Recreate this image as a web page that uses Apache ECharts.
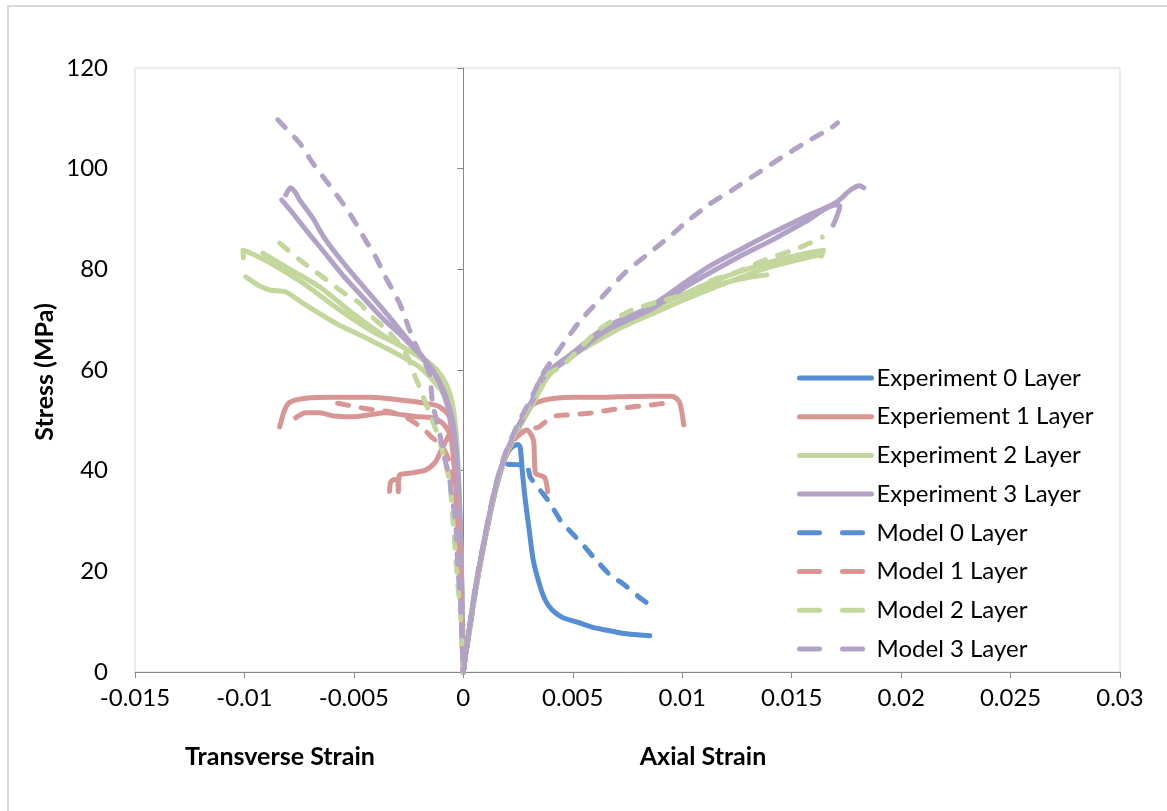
<!DOCTYPE html>
<html>
<head>
<meta charset="utf-8">
<script src="https://cdn.jsdelivr.net/npm/echarts@6/dist/echarts.min.js"></script>
<style>
  html, body { margin: 0; padding: 0; background: #ffffff; }
  #chart { width: 1167px; height: 811px; }
</style>
</head>
<body>
<div id="chart"></div>
<script>
// Stress-strain curves: axial strain on the positive side, transverse strain on the negative side.
const xTicks = [-0.015, -0.01, -0.005, 0, 0.005, 0.01, 0.015, 0.02, 0.025, 0.03];
const yTicks = [0, 20, 40, 60, 80, 100, 120];

const legendNames = [
  'Experiment 0 Layer', 'Experiement 1 Layer', 'Experiment 2 Layer', 'Experiment 3 Layer',
  'Model 0 Layer', 'Model 1 Layer', 'Model 2 Layer', 'Model 3 Layer'
];
const layerColors = ['#558ed5', '#d99594', '#c3d69b', '#b3a2c7'];

// ---- 0 layer ----
const exp0Axial = [[0,0],[0.0001,3.4],[0.00027,8.3],[0.00055,16.3],[0.001,26.8],[0.00146,36.2],[0.0019,42.6],[0.0022,44.6],[0.0025,45.2],[0.0026,44.6],[0.00269,40.1],[0.00283,34.2],[0.00301,28.2],[0.00319,22.3],[0.00346,17.7],[0.00374,14.3],[0.00406,12.3],[0.00451,10.9],[0.0052,9.9],[0.00588,8.9],[0.00656,8.3],[0.00725,7.7],[0.00793,7.4],[0.00852,7.2]];
const model0Axial = [[0,0],[0.0001,3.2],[0.00028,8.4],[0.00056,16.5],[0.001,27],[0.00147,36.4],[0.0019,41.3],[0.0024,41.2],[0.0029,41.0],[0.00306,38.7],[0.0036,35.6],[0.00392,33.8],[0.00451,29.6],[0.00483,28.2],[0.00556,24.8],[0.00597,22.7],[0.00679,18.9],[0.00725,17.7],[0.00802,14.9],[0.00852,13.3]];

// ---- 1 layer ----
const exp1AxialA = [[0,0],[0.00009,3.6],[0.00027,8.2],[0.00055,16.4],[0.001,26.9],[0.00146,36.1],[0.00191,42.8],[0.00223,46.3],[0.00255,49],[0.00283,51.2],[0.00315,53],[0.0036,53.9],[0.00419,54.4],[0.0051,54.6],[0.00647,54.6],[0.00738,54.7],[0.00861,54.8],[0.00953,54.8],[0.00985,53.8],[0.00998,51.7],[0.01007,49.1]];
const exp1AxialB = [[0,0],[0.0001,3.3],[0.00028,8.4],[0.00056,16.2],[0.001,26.7],[0.00146,36.3],[0.0019,42.5],[0.00225,46.2],[0.0029,48.1],[0.0032,46.1],[0.00325,42.2],[0.0033,39.5],[0.0037,38.7],[0.0038,37.4],[0.00385,35.8]];
const exp1TransA = [[0,0],[-0.00005,5],[-0.00009,11.7],[-0.00014,18.3],[-0.00018,24.8],[-0.00027,31.6],[-0.00036,38.1],[-0.0005,44.7],[-0.00064,50.7],[-0.00109,52.7],[-0.00173,53.4],[-0.00278,54],[-0.00428,54.6],[-0.00597,54.6],[-0.0072,54.4],[-0.00793,53.6],[-0.00816,52.1],[-0.00839,48.7]];
const exp1TransB = [[0,0],[-0.00005,6.4],[-0.00014,18.3],[-0.00023,30.2],[-0.00032,38.1],[-0.00046,44.1],[-0.00064,47.5],[-0.00096,49.5],[-0.00141,50.5],[-0.00201,50.7],[-0.00278,51.1],[-0.00356,51.5],[-0.00428,51.1],[-0.00506,50.7],[-0.00597,50.9],[-0.00656,51.5],[-0.0072,51.5],[-0.00766,50.5]];
const exp1TransC = [[0,0],[-0.00005,6],[-0.00013,17],[-0.00022,28],[-0.0003,36.5],[-0.00045,43.5],[-0.0006,47.5],[-0.00082,45.7],[-0.00105,43.7],[-0.00128,41.7],[-0.00173,40.1],[-0.00246,39.5],[-0.00292,39.1],[-0.00297,35.8],[-0.00301,38.3],[-0.00324,38.1],[-0.00333,37.6],[-0.00337,35.9]];
const model1Axial = [[0,0],[0.0001,3.5],[0.00027,8.5],[0.00055,16.2],[0.001,26.6],[0.00146,36],[0.0019,42.4],[0.0024,46.5],[0.0029,48.1],[0.00346,48.7],[0.00406,50.7],[0.00483,51.1],[0.00588,51.5],[0.00738,52.5],[0.00848,53],[0.00953,53.6]];
const model1Trans = [[0,0],[-0.00006,8],[-0.00012,17],[-0.0002,25],[-0.0003,32],[-0.00045,38],[-0.0007,42.5],[-0.00105,45.3],[-0.00141,46.5],[-0.00178,48.1],[-0.00264,50.7],[-0.00337,51.7],[-0.00415,52.1],[-0.00492,52.7],[-0.00574,53.4]];

// ---- 2 layers ----
const exp2AxialA = [[0,0],[0.0001,3.5],[0.00027,8.3],[0.00055,16.4],[0.001,26.9],[0.00146,36.3],[0.00191,42.8],[0.00255,48.9],[0.00315,53.5],[0.00374,58.4],[0.00419,60.6],[0.00497,63],[0.00575,65.4],[0.00647,67.4],[0.00725,69.3],[0.00816,71.3],[0.00907,73.3],[0.0103,75.5],[0.01135,77.5],[0.01258,79.5],[0.01376,81.1],[0.01499,82.5],[0.0159,83.4],[0.01645,83.8],[0.01636,82.6]];
const exp2AxialB = [[0,0],[0.0001,3.3],[0.00028,8.1],[0.00056,16.1],[0.001,26.6],[0.00147,36],[0.00192,42.5],[0.00256,48.6],[0.00316,53.2],[0.00376,58],[0.00419,60.2],[0.0051,63.8],[0.0062,66.9],[0.0073,69.3],[0.0085,71.9],[0.0097,74.3],[0.0109,76.1],[0.0121,77.5],[0.0132,78.5],[0.01386,78.9]];
const exp2AxialC = [[0,0],[0.0001,3.4],[0.00027,8.2],[0.00055,16.3],[0.001,26.8],[0.00146,36.2],[0.00191,42.7],[0.00255,48.8],[0.00315,53.4],[0.00374,58.2],[0.0045,61.6],[0.0058,65],[0.0072,68.4],[0.0088,71.5],[0.0104,74.5],[0.012,77.3],[0.0136,79.9],[0.0151,81.7],[0.0162,82.8]];
const exp2TransA = [[0,0],[-0.00005,14.3],[-0.00014,28.2],[-0.00023,40.1],[-0.00036,49.1],[-0.00059,55],[-0.00096,58.6],[-0.00155,61.4],[-0.00278,64.6],[-0.00428,68],[-0.00583,72.5],[-0.00734,77.3],[-0.00884,81.3],[-0.00971,83.2],[-0.01007,83.8],[-0.01005,82.3]];
const exp2TransB = [[0,0],[-0.00005,13],[-0.00014,27],[-0.00024,39],[-0.0004,48.5],[-0.00082,56.4],[-0.00128,59.6],[-0.00201,62.6],[-0.00356,66.6],[-0.00506,71.3],[-0.00656,76.5],[-0.00811,80.5],[-0.00916,83.2]];
const exp2TransC = [[0,0],[-0.00005,13.5],[-0.00015,27.5],[-0.00026,39.5],[-0.00042,48],[-0.00073,54],[-0.00128,57.4],[-0.00201,60.6],[-0.00278,62.6],[-0.00428,66],[-0.00583,69.3],[-0.00734,73.3],[-0.00811,75.5],[-0.00884,75.9],[-0.00939,76.9],[-0.00994,78.5]];
const model2Axial = [[0,0],[0.0001,3.4],[0.00027,8.4],[0.00055,16.5],[0.001,27.1],[0.00146,36.5],[0.00191,43],[0.00255,49.2],[0.00315,54],[0.00374,58.8],[0.00451,60.8],[0.0062,68],[0.0077,71.9],[0.0092,73.9],[0.0103,75.3],[0.0112,77.5],[0.0124,79.3],[0.0138,81.9],[0.0153,84.2],[0.0164,86.4]];
const model2Trans = [[0,0],[-0.00005,4.4],[-0.00014,12.3],[-0.00027,18.3],[-0.0005,31.6],[-0.00064,38.1],[-0.00109,46.1],[-0.00155,51.5],[-0.00219,58.6],[-0.00264,63.4],[-0.00337,67.4],[-0.00415,70.5],[-0.00474,73.3],[-0.00552,75.5],[-0.00643,78.5],[-0.00748,81.9],[-0.00839,85.2]];

// ---- 3 layers ----
const exp3AxialA = [[0,0],[0.0001,3.6],[0.00027,8.5],[0.00055,16.6],[0.001,27.1],[0.00146,36.5],[0.00191,43],[0.00255,49.2],[0.00315,54],[0.0036,58.6],[0.005,63.4],[0.0065,68.5],[0.0085,72.5],[0.0103,77.9],[0.0112,80.5],[0.0126,83.8],[0.0141,87.2],[0.0156,90.4],[0.017,93.2],[0.0177,95.8],[0.0181,96.6],[0.0183,96.2]];
const exp3AxialB = [[0,0],[0.0001,3.5],[0.00027,8.4],[0.00055,16.5],[0.001,27],[0.00146,36.4],[0.00191,42.9],[0.00255,49],[0.00315,53.8],[0.0036,58.2],[0.005,62.8],[0.0065,67.8],[0.0085,71.9],[0.0103,76.9],[0.0126,82.5],[0.0141,85.8],[0.0156,89.4],[0.017,92.8],[0.0172,92.6],[0.0169,88.8]];
const exp3TransA = [[0,0],[-0.00005,10.3],[-0.00009,22.3],[-0.00018,34.2],[-0.00032,44.1],[-0.0005,50.1],[-0.00082,55],[-0.00128,59],[-0.00187,62.6],[-0.00264,66.6],[-0.00337,70.5],[-0.00415,74.5],[-0.00483,77.9],[-0.00552,81.5],[-0.00611,84.8],[-0.00643,86.8],[-0.00688,90.2],[-0.00748,93.8],[-0.00766,95.2],[-0.00789,96.2],[-0.00811,94.8]];
const exp3TransB = [[0,0],[-0.00005,9.8],[-0.0001,21.5],[-0.0002,33.8],[-0.00034,43.6],[-0.00053,49.6],[-0.00085,54.6],[-0.00119,58.4],[-0.00187,62.6],[-0.00278,66.6],[-0.00369,70.3],[-0.0046,74.5],[-0.00552,78.9],[-0.00643,83.8],[-0.00711,87.4],[-0.0078,91.2],[-0.0083,93.8]];
const model3Axial = [[0,0],[0.0001,3.6],[0.00027,8.6],[0.00055,16.8],[0.001,27.4],[0.00146,36.9],[0.00191,43.4],[0.00255,49.8],[0.00315,54.8],[0.0036,59],[0.00415,62.6],[0.00529,69.5],[0.00634,74.5],[0.00738,79.3],[0.00848,83.2],[0.00939,86.4],[0.0103,89.8],[0.0112,92.8],[0.0123,95.8],[0.0133,98.7],[0.0145,102.1],[0.0156,105.1],[0.0168,108.1],[0.0171,109.1]];
const model3Trans = [[0,0],[-0.00005,5],[-0.00014,14.9],[-0.00024,20],[-0.00033,28.2],[-0.00041,31.6],[-0.00055,35.6],[-0.00064,38.7],[-0.00087,42.7],[-0.00105,46.7],[-0.00141,53.6],[-0.00155,59.4],[-0.00201,63.4],[-0.00246,68],[-0.00292,73.3],[-0.00356,78.5],[-0.00401,82.5],[-0.00447,85.8],[-0.00492,89.2],[-0.00552,93.2],[-0.0062,97.2],[-0.00688,101.1],[-0.00748,105.1],[-0.00848,109.7]];

// Each curve belongs to one legend entry (index into legendNames).
// Transverse model curves are traced from their far tip so the dash pattern starts there.
const curves = [
  [0, exp0Axial],
  [1, exp1AxialA], [1, exp1AxialB], [1, exp1TransA], [1, exp1TransB], [1, exp1TransC],
  [2, exp2AxialA], [2, exp2AxialB], [2, exp2AxialC], [2, exp2TransA], [2, exp2TransB], [2, exp2TransC],
  [3, exp3AxialA], [3, exp3AxialB], [3, exp3TransA], [3, exp3TransB],
  [4, model0Axial],
  [5, model1Axial], [5, model1Trans.slice().reverse()],
  [6, model2Axial], [6, model2Trans.slice().reverse()],
  [7, model3Axial], [7, model3Trans.slice().reverse()]
];

const FONT = 'Lato, "Open Sans", sans-serif';
const lineDash = [11, 13];

const series = curves.map(([k, pts]) => ({
  type: 'line',
  name: legendNames[k],
  data: pts,
  symbol: 'none',
  smooth: 0.25,
  silent: true,
  color: layerColors[k % 4],
  lineStyle: {
    color: layerColors[k % 4],
    width: 5,
    type: k >= 4 ? lineDash : 'solid',
    cap: 'round',
    join: 'round'
  }
}));

const chart = echarts.init(document.getElementById('chart'), null, { renderer: 'canvas' });
chart.setOption({
  animation: false,
  backgroundColor: '#ffffff',
  grid: {
    left: 135, top: 68, width: 985, height: 604,
    show: true, borderColor: '#d9d9d9', borderWidth: 1, backgroundColor: 'transparent'
  },
  xAxis: {
    type: 'value',
    min: xTicks[0], max: xTicks[xTicks.length - 1], interval: 0.005,
    axisLine: { onZero: true, lineStyle: { color: '#868686', width: 1 } },
    axisTick: { show: true, length: 6, lineStyle: { color: '#868686' } },
    splitLine: { show: false },
    axisLabel: {
      color: '#000', fontSize: 24, fontFamily: FONT, margin: 14,
      formatter: v => String(+v.toFixed(3))
    }
  },
  yAxis: [
    {
      type: 'value', position: 'left',
      min: yTicks[0], max: yTicks[yTicks.length - 1], interval: 20,
      axisLine: { show: true, onZero: true, lineStyle: { color: '#868686', width: 1 } },
      axisTick: { show: true, length: 6, lineStyle: { color: '#868686' } },
      axisLabel: { show: false },
      splitLine: { show: false }
    },
    {
      type: 'value', position: 'left',
      min: yTicks[0], max: yTicks[yTicks.length - 1], interval: 20,
      axisLine: { show: false, onZero: false },
      axisTick: { show: false },
      axisLabel: { color: '#000', fontSize: 24, fontFamily: FONT, margin: 27 },
      splitLine: { show: false }
    }
  ],
  legend: {
    orient: 'vertical',
    left: 797, top: 366,
    itemWidth: 72, itemHeight: 20, itemGap: 14.7,
    padding: 0,
    selectedMode: false,
    itemStyle: { opacity: 0 },
    textStyle: { color: '#000', fontSize: 24, fontFamily: FONT },
    data: legendNames.map((n, i) => i >= 4
      ? { name: n, lineStyle: { type: [20, 23], width: 5, cap: 'round' } }
      : { name: n, lineStyle: { width: 5, cap: 'round' } })
  },
  graphic: [
    {
      type: 'rect', silent: true, z: -10,
      shape: { x: 8, y: 6, width: 1200, height: 900 },
      style: { fill: 'none', stroke: '#d9d9d9', lineWidth: 2 }
    },
    {
      type: 'text', silent: true,
      x: 280, y: 757,
      style: { text: 'Transverse Strain', fill: '#000', font: 'bold 25px ' + FONT, textAlign: 'center', textVerticalAlign: 'middle' }
    },
    {
      type: 'text', silent: true,
      x: 703, y: 757,
      style: { text: 'Axial Strain', fill: '#000', font: 'bold 25px ' + FONT, textAlign: 'center', textVerticalAlign: 'middle' }
    },
    {
      type: 'text', silent: true,
      x: 45, y: 372, rotation: Math.PI / 2,
      style: { text: 'Stress (MPa)', fill: '#000', font: 'bold 25px ' + FONT, textAlign: 'center', textVerticalAlign: 'middle' }
    }
  ],
  series: series
});
</script>
</body>
</html>
